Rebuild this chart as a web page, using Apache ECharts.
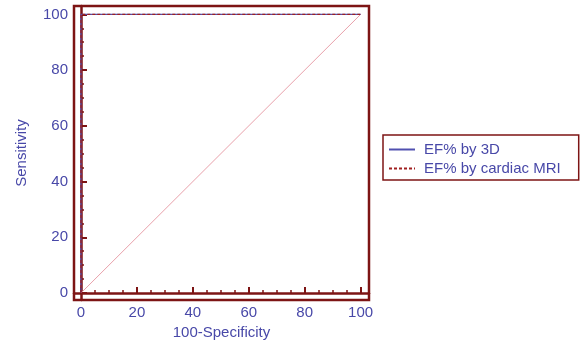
<!DOCTYPE html>
<html><head><meta charset="utf-8">
<script src="https://cdn.jsdelivr.net/npm/echarts@6/dist/echarts.min.js"></script>
<style>html,body{margin:0;padding:0;background:#fff}#c{width:581px;height:345px}</style>
</head><body><div id="c"></div>
<script>
const seriesNames = ['EF% by 3D', 'EF% by cardiac MRI'];
const fpr3D = [0, 0, 100];
const sens3D = [0, 100, 100];
const fprMRI = [0, 0, 100];
const sensMRI = [0, 100, 100];
const diagX = [0, 100];
const diagY = [0, 100];
const majorTicks = [0, 20, 40, 60, 80, 100];
const minorTicks = [5, 10, 15, 25, 30, 35, 45, 50, 55, 65, 70, 75, 85, 90, 95];

const frame = '#7d1414';
const txt = '#4848a8';
const font = 'Liberation Sans, Arial, sans-serif';
const zip = (a, b) => a.map((v, i) => [v, b[i]]);

function mkAxis(kind, major) {
  const isX = kind === 'x';
  return {
    type: 'value', min: -2.5, max: 103,
    position: isX ? 'bottom' : 'left',
    offset: 0,
    name: major ? (isX ? '100-Specificity' : 'Sensitivity') : '',
    nameLocation: 'middle',
    nameGap: isX ? 25 : 45,
    nameTextStyle: { color: txt, fontSize: 15, fontFamily: font },
    axisLine: { show: major, lineStyle: { color: frame, width: 2.5 } },
    axisTick: { show: true, inside: true, length: major ? 6 : 3, customValues: major ? majorTicks : minorTicks, lineStyle: { color: frame, width: major ? 2 : 1.5 } },
    axisLabel: { show: major, customValues: majorTicks, color: txt, fontSize: 15, fontFamily: font, margin: isX ? 5 : 6 },
    splitLine: { show: false }
  };
}

const chart = echarts.init(document.getElementById('c'), null, { renderer: 'canvas' });
chart.setOption({
  animation: false,
  grid: { left: 74, top: 6, width: 295, height: 295, show: true, borderColor: frame, borderWidth: 2.5, backgroundColor: 'transparent' },
  xAxis: [mkAxis('x', true), mkAxis('x', false)],
  yAxis: [mkAxis('y', true), mkAxis('y', false)],
  legend: {
    data: seriesNames,
    orient: 'vertical', left: 383, top: 135,
    itemWidth: 26, itemHeight: 14, itemGap: 4,
    padding: [7, 18, 4, 5],
    borderColor: frame, borderWidth: 1.5,
    itemStyle: { opacity: 0 },
    textStyle: { color: txt, fontSize: 15, fontFamily: font, padding: [0, 0, 0, 4] }
  },
  series: [
    { name: 'diag', type: 'line', data: zip(diagX, diagY), symbol: 'none', color: '#e8a0aa', lineStyle: { color: '#e8a0aa', width: 1 }, silent: true, z: 1 },
    { name: seriesNames[0], type: 'line', data: zip(fpr3D, sens3D), symbol: 'none', color: '#5050b0', lineStyle: { color: '#5050b0', width: 1.2 }, z: 2 },
    { name: seriesNames[1], type: 'line', data: zip(fprMRI, sensMRI), symbol: 'none', color: '#a02020', lineStyle: { color: '#a02020', width: 1.2, type: [3, 2] }, z: 3 }
  ]
});
</script></body></html>
